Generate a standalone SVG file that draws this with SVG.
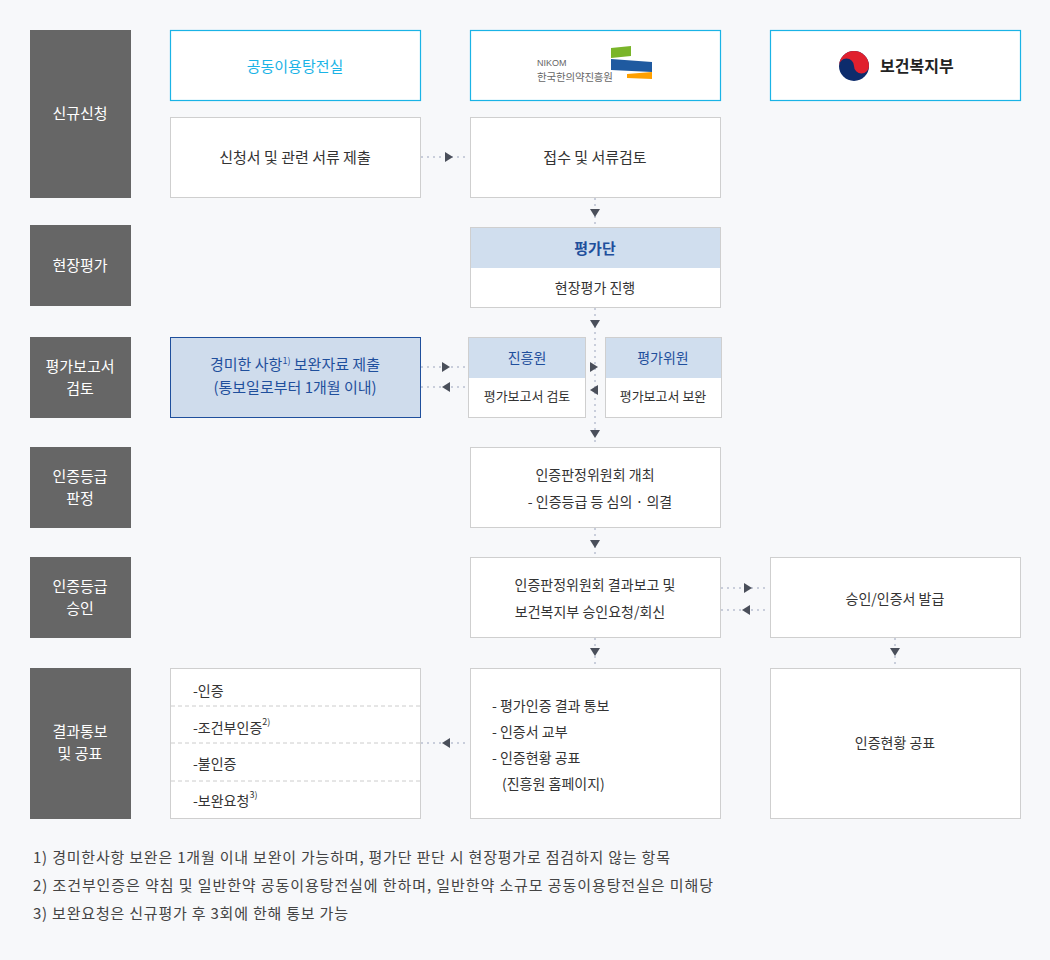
<svg xmlns="http://www.w3.org/2000/svg" xmlns:xlink="http://www.w3.org/1999/xlink" width="1050" height="960" viewBox="0 0 1050 960">
<style>
text{font-family:"Noto Sans CJK KR","Noto Sans",sans-serif;font-size:15px;fill:#333;text-anchor:middle}
.lab{fill:#666}
.lt{fill:#fff;font-size:15px}
.box{fill:#fff;stroke:#cfcfcf;stroke-width:1}
.hd{fill:#fff;stroke:#1ab3e6;stroke-width:1.2}
.bh{fill:#d0deee}
.bt{fill:#1f4f9c;font-size:14px}
.sm{font-size:13px}
.ln{stroke:#c9cedb;stroke-width:2;stroke-dasharray:2 4;fill:none}
.ft{font-size:15px;fill:#444;text-anchor:start}
.sup{font-size:9px}
</style>
<defs>
<polygon id="ar" points="-4,-5 4,0 -4,5" fill="#4a4f5a"/>
<polygon id="al" points="4,-5 -4,0 4,5" fill="#4a4f5a"/>
<polygon id="ad" points="-5,-4 5,-4 0,4" fill="#4a4f5a"/>
</defs>
<rect width="1050" height="960" fill="#f7f8fa"/>

<g id="labels">
<rect class="lab" x="30" y="30" width="101" height="168"/><text class="lt" x="80" y="119">신규신청</text>
<rect class="lab" x="30" y="225" width="101" height="81"/><text class="lt" x="80" y="271">현장평가</text>
<rect class="lab" x="30" y="337" width="101" height="81"/><text class="lt" x="80" y="372">평가보고서</text><text class="lt" x="80" y="394">검토</text>
<rect class="lab" x="30" y="447" width="101" height="81"/><text class="lt" x="80" y="482">인증등급</text><text class="lt" x="80" y="504">판정</text>
<rect class="lab" x="30" y="557" width="101" height="81"/><text class="lt" x="80" y="592">인증등급</text><text class="lt" x="80" y="614">승인</text>
<rect class="lab" x="30" y="668" width="101" height="151"/><text class="lt" x="80" y="737">결과통보</text><text class="lt" x="80" y="759">및 공표</text>
</g>

<g id="connectors">
<line class="ln" x1="421" y1="157" x2="469" y2="157"/><use href="#ar" x="449" y="157"/>
<line class="ln" x1="595" y1="198" x2="595" y2="226"/><use href="#ad" x="595" y="213"/>
<line class="ln" x1="595" y1="308" x2="595" y2="446"/><use href="#ad" x="595" y="324"/><use href="#ad" x="595" y="434"/>
<line class="ln" x1="421" y1="367" x2="467" y2="367"/><use href="#ar" x="446" y="367"/>
<line class="ln" x1="421" y1="387" x2="467" y2="387"/><use href="#al" x="446" y="387"/>
<use href="#ar" x="594" y="367"/><use href="#al" x="594" y="390"/>
<line class="ln" x1="595" y1="528" x2="595" y2="556"/><use href="#ad" x="595" y="544"/>
<line class="ln" x1="595" y1="638" x2="595" y2="667"/><use href="#ad" x="595" y="652"/>
<line class="ln" x1="895" y1="638" x2="895" y2="667"/><use href="#ad" x="895" y="652"/>
<line class="ln" x1="721" y1="588" x2="769" y2="588"/><use href="#ar" x="748" y="588"/>
<line class="ln" x1="721" y1="610" x2="769" y2="610"/><use href="#al" x="746" y="610"/>
<line class="ln" x1="421" y1="743" x2="469" y2="743"/><use href="#al" x="446" y="743"/>
</g>

<g id="h1"><rect class="hd" x="170.5" y="30.5" width="250" height="70"/><text x="295" y="72" style="fill:#1ab3e6">공동이용탕전실</text></g>
<g id="h2"><rect class="hd" x="470.5" y="30.5" width="250" height="70"/>
<text x="537" y="66" style="font-size:9px;fill:#666;text-anchor:start;font-family:'Liberation Sans',sans-serif">NIKOM</text>
<text x="537" y="81" style="font-size:10.5px;fill:#666;text-anchor:start" textLength="76">한국한의약진흥원</text>
<polygon points="611,48 631,46 631,56 611,58" fill="#7ab52a"/>
<polygon points="611,59 652,62 652,72 611,70" fill="#1f5aa0"/>
<polygon points="627,74 652,72 652,79 627,78" fill="#ffa000"/>
</g>
<g id="h3"><rect class="hd" x="770.5" y="30.5" width="250" height="70"/>
<circle cx="854" cy="66" r="15" fill="#0d2c6c"/>
<path d="M839,66 A15,15 0 0 1 869,66 A7.5,7.5 0 0 1 854,66 A7.5,7.5 0 0 0 839,66Z" fill="#e0202e"/>
<text x="880" y="72" style="text-anchor:start;font-size:16px;fill:#222;font-weight:bold">보건복지부</text></g>

<g id="n1"><rect class="box" x="170.5" y="117.5" width="250" height="80"/><text x="295" y="163">신청서 및 관련 서류 제출</text></g>
<g id="n2"><rect class="box" x="470.5" y="117.5" width="250" height="80"/><text x="595" y="163">접수 및 서류검토</text></g>
<g id="n3"><rect class="box" x="470.5" y="227.5" width="250" height="80"/><rect class="bh" x="471" y="228" width="249" height="40"/><text x="595" y="254" style="fill:#1f4f9c;font-weight:bold">평가단</text><text x="595" y="293" class="sm" style="font-size:14px">현장평가 진행</text></g>
<g id="n4"><rect x="170.5" y="337.5" width="250" height="80" fill="#cfdcec" stroke="#1f4f9c"/><text x="295" y="370" style="fill:#1f4f9c">경미한 사항<tspan class="sup" dy="-6">1)</tspan><tspan dy="6"> 보완자료 제출</tspan></text><text x="295" y="393" style="fill:#1f4f9c">(통보일로부터 1개월 이내)</text></g>
<g id="n5"><rect class="box" x="468.5" y="337.5" width="117" height="80"/><rect class="bh" x="469" y="338" width="116" height="40"/><text x="527" y="363" class="bt">진흥원</text><text x="527" y="401" class="sm">평가보고서 검토</text></g>
<g id="n6"><rect class="box" x="605.5" y="337.5" width="116" height="80"/><rect class="bh" x="606" y="338" width="115" height="40"/><text x="663" y="363" class="bt">평가위원</text><text x="663" y="401" class="sm">평가보고서 보완</text></g>
<g id="n7"><rect class="box" x="470.5" y="447.5" width="250" height="80"/><text x="595" y="480" style="font-size:14px">인증판정위원회 개최</text><text x="600" y="507" style="font-size:14px">- 인증등급 등 심의 · 의결</text></g>
<g id="n8"><rect class="box" x="470.5" y="557.5" width="250" height="80"/><text x="595" y="590" style="font-size:14px">인증판정위원회 결과보고 및</text><text x="590" y="617" style="font-size:14px">보건복지부 승인요청/회신</text></g>
<g id="n9"><rect class="box" x="770.5" y="557.5" width="250" height="80"/><text x="895" y="604" style="font-size:14px">승인/인증서 발급</text></g>
<g id="n10"><rect class="box" x="170.5" y="668.5" width="250" height="150"/>
<line x1="171" y1="706" x2="420" y2="706" stroke="#ccc" stroke-dasharray="4 3"/>
<line x1="171" y1="743" x2="420" y2="743" stroke="#ccc" stroke-dasharray="4 3"/>
<line x1="171" y1="781" x2="420" y2="781" stroke="#ccc" stroke-dasharray="4 3"/>
<text x="193" y="696" style="text-anchor:start;font-size:14px">-인증</text>
<text x="193" y="733" style="text-anchor:start;font-size:14px">-조건부인증<tspan class="sup" dy="-8">2)</tspan></text>
<text x="193" y="769" style="text-anchor:start;font-size:14px">-불인증</text>
<text x="193" y="806" style="text-anchor:start;font-size:14px">-보완요청<tspan class="sup" dy="-8">3)</tspan></text></g>
<g id="n11"><rect class="box" x="470.5" y="668.5" width="250" height="150"/>
<text x="492" y="711" style="text-anchor:start;font-size:14px">- 평가인증 결과 통보</text>
<text x="492" y="737" style="text-anchor:start;font-size:14px">- 인증서 교부</text>
<text x="492" y="763" style="text-anchor:start;font-size:14px">- 인증현황 공표</text>
<text x="502" y="789" style="text-anchor:start;font-size:14px">(진흥원 홈페이지)</text></g>
<g id="n12"><rect class="box" x="770.5" y="668.5" width="250" height="150"/><text x="895" y="748" style="font-size:14px">인증현황 공표</text></g>

<g id="notes">
<text class="ft" x="33" y="863" textLength="637">1) 경미한사항 보완은 1개월 이내 보완이 가능하며, 평가단 판단 시 현장평가로 점검하지 않는 항목</text>
<text class="ft" x="33" y="891" textLength="680">2) 조건부인증은 약침 및 일반한약 공동이용탕전실에 한하며, 일반한약 소규모 공동이용탕전실은 미해당</text>
<text class="ft" x="33" y="919" textLength="315">3) 보완요청은 신규평가 후 3회에 한해 통보 가능</text>
</g>
</svg>
